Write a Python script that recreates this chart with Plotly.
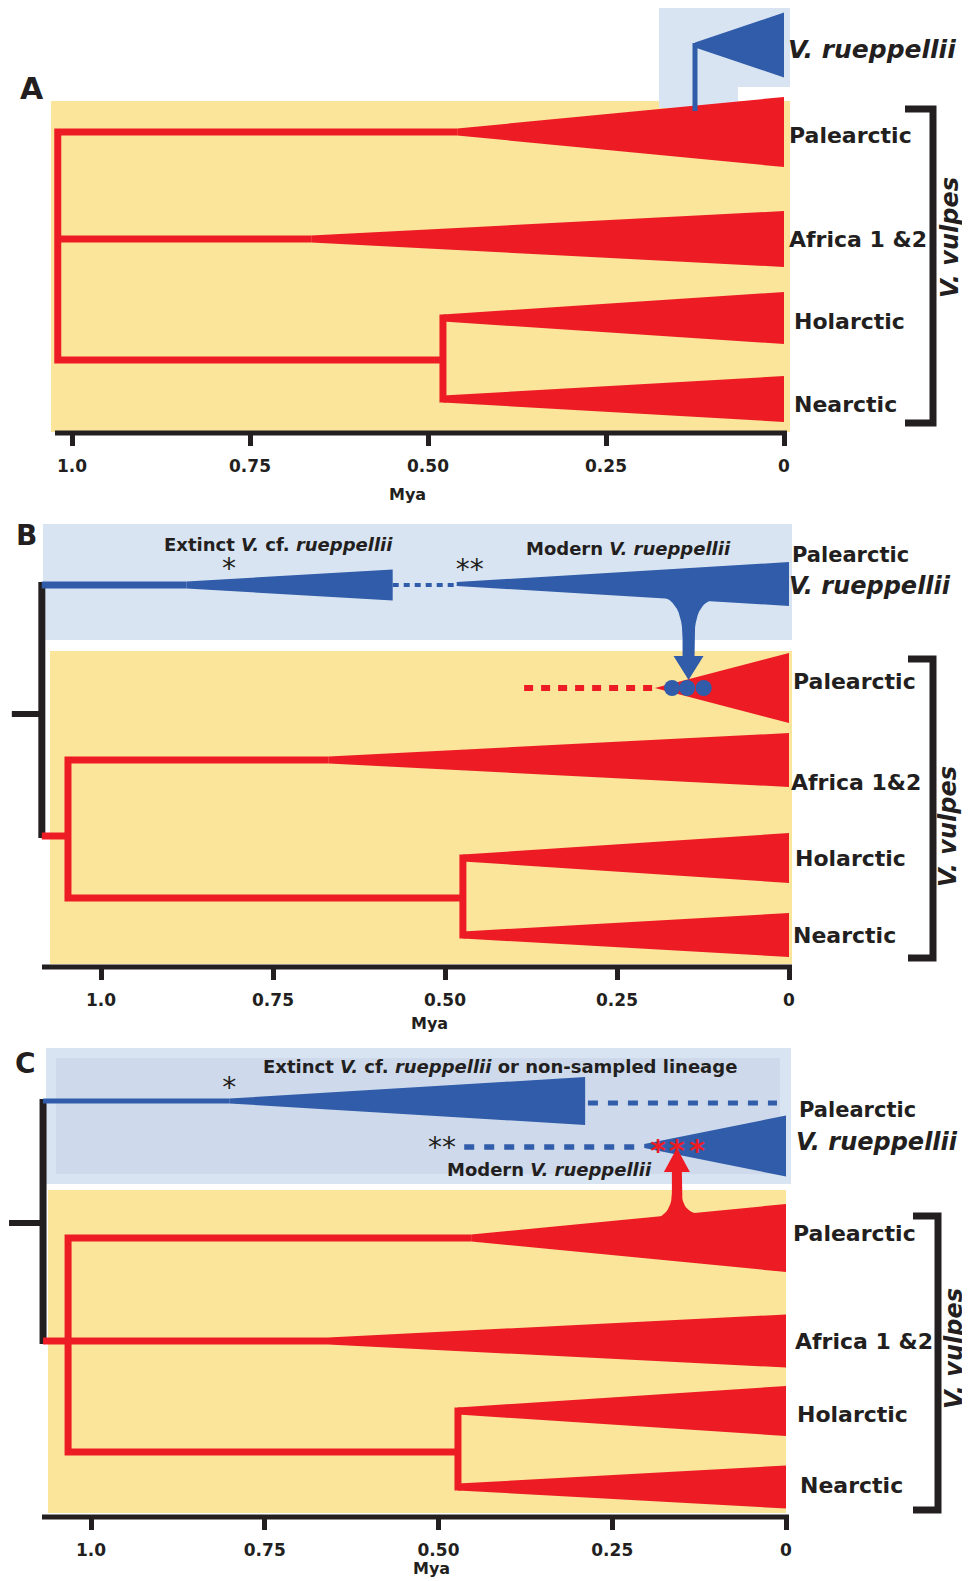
import plotly.graph_objects as go

PAGE_W, PAGE_H = 970, 1581
OFF = 8                      # default body margin of the html page
W, H = PAGE_W - OFF, PAGE_H - OFF
RED = "#ED1C24"
BLUE = "#305CA9"
YELLOW = "#FBE59B"
LBLUE = "#D9E4F2"
LBLUE2 = "#CEDAEC"
INK = "#231F20"
FONT = "DejaVu Sans"

# ---------------------------------------------------------------- data (ages in Mya)
tick_vals = [1.0, 0.75, 0.5, 0.25, 0.0]
tick_text = ["1.0", "0.75", "0.50", "0.25", "0"]
clades_a = ["Palearctic", "Africa 1 &2", "Holarctic", "Nearctic"]
clades_b = ["Palearctic", "Africa 1&2", "Holarctic", "Nearctic"]
clades_c = ["Palearctic", "Africa 1 &2", "Holarctic", "Nearctic"]

# Panel A
a_root_age = 1.020
a_clade_origin = [0.459, 0.664, 0.479, 0.479]
a_holnea_node = 0.479
a_rupp_origin = 0.125

# Panel B
b_species_root = 1.086
b_vulpes_root = 1.048
b_clade_origin = [0.195, 0.669, 0.474, 0.474]
b_holnea_node = 0.474
b_pal_ghost_from = 0.385
b_extinct_expand = 0.876
b_extinct_end = 0.576
b_modern_origin = 0.483
b_introgression = [0.170, 0.148, 0.124]
b_arrow_age = 0.146
b_star_ages = [0.814, 0.464]

# Panel C
c_species_root = 1.069
c_vulpes_root = 1.033
c_clade_origin = [0.453, 0.659, 0.472, 0.472]
c_holnea_node = 0.472
c_extinct_expand = 0.801
c_extinct_end = 0.289
c_ghost_end = 0.013
c_modern_ghost_from = 0.463
c_modern_origin = 0.204
c_introgression = [0.184, 0.157, 0.128]
c_arrow_age = 0.157
c_star_ages = [0.801, 0.495]

# ---------------------------------------------------------------- layout config (page pixels)
PANELS = {
    "A": dict(x0=784, s=712, top=OFF, bot=505, base=433, ax="x", ay="y", n="",
              rows=[132, 239, 318, 399], hw=[35, 28, 26, 23], hn=360),
    "B": dict(x0=789, s=688, top=505, bot=1028, base=967, ax="x2", ay="y2", n="2",
              rows=[688, 760, 858, 935], hw=[35, 27, 25, 22], hn=898),
    "C": dict(x0=786, s=695, top=1028, bot=PAGE_H, base=1517, ax="x3", ay="y3", n="3",
              rows=[1238, 1341, 1411, 1487], hw=[34, 26.5, 25, 21.5], hn=1452),
}

fig = go.Figure()
shapes, annotations = [], []


def X(p, px):
    return (p["x0"] - px) / p["s"]


def PX(p, age):
    return p["x0"] - age * p["s"]


def fx(px):
    return (px - OFF) / W


def fy(py):
    return 1 - (py - OFF) / H


def add_poly(p, xs, ys, color):
    fig.add_trace(go.Scatter(x=xs, y=ys, xaxis=p["ax"], yaxis=p["ay"], mode="lines",
                             fill="toself", fillcolor=color, line=dict(width=0, color=color),
                             hoverinfo="skip", showlegend=False))


def add_line(p, xs, ys, color, width, dash=None):
    fig.add_trace(go.Scatter(x=xs, y=ys, xaxis=p["ax"], yaxis=p["ay"], mode="lines",
                             line=dict(color=color, width=width, dash=dash),
                             hoverinfo="skip", showlegend=False))


def wedge(p, start, y, hw, lw0, color, end=0.0):
    add_poly(p, [start, end, end, start], [y - lw0 / 2, y - hw, y + hw, y + lw0 / 2], color)


def edge_y(p, start, y, hw, lw0, px, side):
    x_start, x_end = PX(p, start), PX(p, 0.0)
    f = (px - x_start) / (x_end - x_start)
    d = lw0 / 2 + (hw - lw0 / 2) * f
    return y + side * d


def bez(p0, p1, p2, n=14):
    out = []
    for i in range(n + 1):
        t = i / n
        out.append(((1 - t) ** 2 * p0[0] + 2 * (1 - t) * t * p1[0] + t * t * p2[0],
                    (1 - t) ** 2 * p0[1] + 2 * (1 - t) * t * p1[1] + t * t * p2[1]))
    return out


def arrow(p, age, ldx, rdx, yl, yr, neck, stem_hw, head_base, head_hw, tip, color):
    cx = PX(p, age)
    pts = bez((cx - ldx, yl), (cx - stem_hw, yl), (cx - stem_hw, neck))
    pts += [(cx - stem_hw, head_base), (cx - head_hw, head_base), (cx, tip),
            (cx + head_hw, head_base), (cx + stem_hw, head_base)]
    pts += bez((cx + stem_hw, neck), (cx + stem_hw, yr), (cx + rdx, yr))
    add_poly(p, [X(p, q[0]) for q in pts], [q[1] for q in pts], color)


def stars(p, ages, y, color, text="*", size=28, bold=False):
    t = f"<b>{text}</b>" if bold else text
    fig.add_trace(go.Scatter(x=ages, y=[y + 0.22 * size] * len(ages), xaxis=p["ax"], yaxis=p["ay"],
                             mode="text", text=[t] * len(ages), textposition="middle center",
                             textfont=dict(family=FONT, size=size, color=color),
                             hoverinfo="skip", showlegend=False, cliponaxis=False))


def rect(x0, y0, x1, y1, color):
    shapes.append(dict(type="rect", xref="paper", yref="paper", x0=fx(x0), x1=fx(x1),
                       y0=fy(y1), y1=fy(y0), fillcolor=color, line=dict(width=0),
                       layer="below"))


def label(x, y, text, size, xanchor="left", color=INK, angle=0):
    annotations.append(dict(x=fx(x), y=fy(y), xref="paper", yref="paper", text=text,
                            showarrow=False, xanchor=xanchor, yanchor="middle",
                            font=dict(family=FONT, size=size, color=color), textangle=angle))


def bracket(p, x, left, top, bot):
    add_line(p, [X(p, left), X(p, x), X(p, x), X(p, left)], [top, top, bot, bot], INK, 7)


def baseline(p, x_from, x_to):
    add_line(p, [X(p, x_from), X(p, x_to)], [p["base"], p["base"]], INK, 5)


LW = 7

# ================================================================ Panel A
pa = PANELS["A"]
rect(51, 101, 790, 432, YELLOW)
rect(659, 8, 790, 87, LBLUE)
rect(659, 87, 738, 108, LBLUE)
r, hw, hn = pa["rows"], pa["hw"], pa["hn"]
add_line(pa, [a_clade_origin[0], a_root_age, a_root_age, a_holnea_node], [r[0], r[0], hn, hn], RED, LW)
add_line(pa, [a_root_age, a_clade_origin[1]], [r[1], r[1]], RED, LW)
add_line(pa, [a_holnea_node] * 2, [r[2] - LW / 2, r[3] + LW / 2], RED, LW)
for i in range(4):
    wedge(pa, a_clade_origin[i], r[i], hw[i], LW, RED)
# V. rueppellii
add_line(pa, [a_rupp_origin] * 2, [43, 111], BLUE, 5)
wedge(pa, a_rupp_origin, 45, 32.5, 5, BLUE)
baseline(pa, 55, 787)
bracket(pa, 933, 905, 109, 423)
label(32, 89, "<b>A</b>", 30, "center")
label(786, 50, "<b><i>V. rueppellii</i></b>", 25)
for name, (lx, ly) in zip(clades_a, [(787, 136), (787, 240), (792, 321), (792, 405)]):
    label(lx, ly, f"<b>{name}</b>", 22)
label(950, 238, "<b><i>V. vulpes</i></b>", 24, "center", angle=-90)
label(407, 494, "<b>Mya</b>", 16, "center")

# ================================================================ Panel B
pb = PANELS["B"]
rect(43, 524, 792, 640, LBLUE)
rect(50, 651, 792, 964, YELLOW)
r, hw, hn = pb["rows"], pb["hw"], pb["hn"]
# species-tree root (black)
add_line(pb, [b_species_root + 30 / pb["s"], b_species_root], [714, 714], INK, 6)
add_line(pb, [b_species_root] * 2, [582, 838], INK, 7)
# blue lineage
add_line(pb, [b_species_root, b_extinct_expand], [585, 585], BLUE, 7)
wedge(pb, b_extinct_expand, 585, 15.5, 7, BLUE, end=b_extinct_end)
add_line(pb, [b_extinct_end, b_modern_origin], [585, 585], BLUE, 4, "6px,5px")
wedge(pb, b_modern_origin, 584, 22, 4, BLUE)
# red lineage
add_line(pb, [b_species_root, b_vulpes_root], [836, 836], RED, LW)
add_line(pb, [b_clade_origin[1], b_vulpes_root, b_vulpes_root, b_holnea_node], [r[1], r[1], hn, hn], RED, LW)
add_line(pb, [b_holnea_node] * 2, [r[2] - LW / 2, r[3] + LW / 2], RED, LW)
add_line(pb, [b_pal_ghost_from, b_clade_origin[0]], [r[0], r[0]], RED, 6, "9px,8px")
wedge(pb, b_clade_origin[0], r[0], hw[0], 0, RED)
for i in range(1, 4):
    wedge(pb, b_clade_origin[i], r[i], hw[i], LW, RED)
# introgression arrow + dots
cx = PX(pb, b_arrow_age)
arrow(pb, b_arrow_age, 37, 31,
      edge_y(pb, b_modern_origin, 584, 22, 4, cx - 37, 1) - 3,
      edge_y(pb, b_modern_origin, 584, 22, 4, cx + 31, 1) - 3,
      638, 6, 656, 15, 680, BLUE)
fig.add_trace(go.Scatter(x=b_introgression, y=[688] * 3, xaxis="x2", yaxis="y2", mode="markers",
                         marker=dict(size=16, color=BLUE), hoverinfo="skip", showlegend=False))
stars(pb, [b_star_ages[0]], 565, INK)
stars(pb, [b_star_ages[1]], 566, INK, text="**")
baseline(pb, 42, 792)
bracket(pb, 933, 908, 659, 958)
label(26, 535, "<b>B</b>", 28, "center")
label(278, 544, "<b>Extinct <i>V.</i> cf. <i>rueppellii</i></b>", 18, "center")
label(628, 548, "<b>Modern <i>V. rueppellii</i></b>", 18, "center")
label(790, 555, "<b>Palearctic</b>", 21)
label(787, 586, "<b><i>V. rueppellii</i></b>", 24)
for name, (lx, ly) in zip(clades_b, [(791, 681), (789, 782), (793, 859), (791, 936)]):
    label(lx, ly, f"<b>{name}</b>", 22)
label(948, 827, "<b><i>V. vulpes</i></b>", 24, "center", angle=-90)
label(429, 1024, "<b>Mya</b>", 16, "center")

# ================================================================ Panel C
pc = PANELS["C"]
rect(46, 1048, 791, 1184, LBLUE)
rect(56, 1058, 780, 1174, LBLUE2)
rect(48, 1190, 786, 1513, YELLOW)
r, hw, hn = pc["rows"], pc["hw"], pc["hn"]
add_line(pc, [c_species_root + 34 / pc["s"], c_species_root], [1223, 1223], INK, 6)
add_line(pc, [c_species_root] * 2, [1099, 1344], INK, 7)
# blue lineages
add_line(pc, [c_species_root, c_extinct_expand], [1101, 1101], BLUE, 5)
wedge(pc, c_extinct_expand, 1101, 24, 5, BLUE, end=c_extinct_end)
add_line(pc, [c_extinct_end - 0.004, c_ghost_end], [1103, 1103], BLUE, 5, "10px,10px")
add_line(pc, [c_modern_ghost_from, c_modern_origin], [1147, 1147], BLUE, 5.5, "10px,10px")
wedge(pc, c_modern_origin, 1146, 30.5, 4, BLUE)
# red tree
add_line(pc, [c_clade_origin[0], c_vulpes_root, c_vulpes_root, c_holnea_node], [r[0], r[0], hn, hn], RED, LW)
add_line(pc, [c_species_root, c_clade_origin[1]], [r[1], r[1]], RED, LW)
add_line(pc, [c_holnea_node] * 2, [r[2] - LW / 2, r[3] + LW / 2], RED, LW)
for i in range(4):
    wedge(pc, c_clade_origin[i], r[i], hw[i], LW, RED)
cx = PX(pc, c_arrow_age)
arrow(pc, c_arrow_age, 37, 29,
      edge_y(pc, c_clade_origin[0], r[0], hw[0], LW, cx - 37, -1) + 3,
      edge_y(pc, c_clade_origin[0], r[0], hw[0], LW, cx + 29, -1) + 3,
      1193, 5, 1172, 13, 1148, RED)
stars(pc, c_introgression, 1147, RED, size=30, bold=True)
stars(pc, [c_star_ages[0]], 1084, INK)
stars(pc, [c_star_ages[1]], 1144, INK, text="**")
baseline(pc, 42, 789)
bracket(pc, 938, 913, 1216, 1510)
label(25, 1063, "<b>C</b>", 28, "center")
label(500, 1066, "<b>Extinct <i>V.</i> cf. <i>rueppellii</i> or non-sampled lineage</b>", 18, "center")
label(549, 1169, "<b>Modern <i>V. rueppellii</i></b>", 18, "center")
label(797, 1110, "<b>Palearctic</b>", 21)
label(794, 1142, "<b><i>V. rueppellii</i></b>", 24)
for name, (lx, ly) in zip(clades_c, [(791, 1233), (793, 1341), (795, 1414), (798, 1485)]):
    label(lx, ly, f"<b>{name}</b>", 22)
label(954, 1349, "<b><i>V. vulpes</i></b>", 24, "center", angle=-90)
label(431, 1568, "<b>Mya</b>", 16, "center")

# ================================================================ axes
layout_axes = {}
for key, p in PANELS.items():
    n = p["n"]
    layout_axes["xaxis" + n] = dict(
        domain=[0, 1], range=[X(p, OFF), X(p, PAGE_W)], anchor="free", position=fy(p["base"]),
        showgrid=False, zeroline=False, showline=False, ticks="outside", ticklen=12,
        tickwidth=5, tickcolor=INK, tickvals=tick_vals,
        ticktext=[f"<b>{t}</b>" for t in tick_text],
        tickfont=dict(family=FONT, size=17, color=INK), ticklabelstandoff=6, fixedrange=True)
    layout_axes["yaxis" + n] = dict(
        domain=[max(0, fy(p["bot"])), min(1, fy(p["top"]))], range=[p["bot"], p["top"]],
        visible=False, fixedrange=True)

fig.update_layout(width=W, height=H, autosize=False, margin=dict(l=0, r=0, t=0, b=0),
                  paper_bgcolor="white", plot_bgcolor="rgba(0,0,0,0)", showlegend=False,
                  hovermode=False, shapes=shapes, annotations=annotations, **layout_axes)

fig.write_html("out.html")
